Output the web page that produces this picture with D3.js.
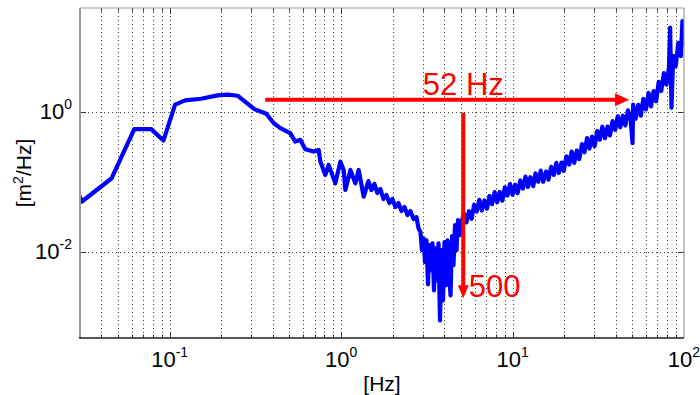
<!DOCTYPE html>
<html><head><meta charset="utf-8">
<script src="https://cdn.jsdelivr.net/npm/d3@7"></script>
<style>
body{margin:0;background:#fff;}
text{font-family:"Liberation Sans",Arial,Helvetica,sans-serif;fill:#000;}
</style>
</head><body><svg id="c" width="700" height="395"></svg>
<script>
// ---- data ----
const freq = [
 0.030,0.0308,0.0459,0.0622,0.078,0.092,0.1076,0.123,0.1525,0.19,0.218,0.249,0.312,0.366,
 0.404,0.442,0.505,0.540,0.578,0.618,0.692,0.740,0.757,0.809,0.846,0.926,0.990,1.035,1.059,
 1.133,1.211,1.266,1.355,
 1.443,1.502,1.564,1.628,1.696,1.766,1.838,1.913,1.992,2.075,2.160,2.249,2.342,2.438,2.538,2.643,2.752,2.827,
 2.904,2.963,3.024,3.085,3.148,3.212,3.278,3.344,3.413,3.482,3.553,3.625,3.699,3.775,3.851,3.930,4.010,4.091,
 4.175,4.260,4.347,4.436,4.525,4.618,4.712,4.808,4.906,5.040,
 5.2,5.38,5.57,5.77,5.97,6.18,6.4,6.62,6.85,7.09,7.34,7.6,7.86,8.14,8.42,8.72,9.02,9.34,9.67,10.0,
 10.35,10.7,11.1,11.5,11.9,12.3,12.7,13.2,13.6,14.1,14.6,15.1,15.7,16.2,16.8,17.4,18.0,18.6,19.3,19.9,
 20.6,21.4,22.1,22.9,23.7,24.5,25.4,26.3,27.2,28.1,29.1,30.1,31.2,32.3,33.4,34.6,35.8,37.0,38.3,39.7,
 41.1,42.5,44.0,45.5,47.1,48.8,50.1,50.5,52.2,54.1,56.0,57.9,60.0,62.1,64.2,66.5,68.8,71.2,73.7,76.3,
 79.0,81.7,83.0,84.5,86.5,89.5,92.6,95.9,97.9,100
];
const psd = [
 0.0611,0.0527,0.113,0.566,0.566,0.389,1.26,1.45,1.53,1.71,1.75,1.69,1.09,0.936,
 0.690,0.585,0.496,0.376,0.398,0.293,0.271,0.286,0.195,0.126,0.175,0.0958,0.195,0.148,0.0769,
 0.148,0.0958,0.148,0.0617,
 0.103,0.0769,0.0936,0.0697,0.0794,0.0572,0.0652,0.0501,0.0572,0.0440,0.0501,0.0385,0.0440,0.0338,0.0385,0.0296,0.0316,0.0220,
 0.0193,0.0107,0.0158,0.00720,0.0148,0.00349,0.0126,0.00553,0.0134,0.00286,0.0114,0.00398,0.0134,0.00107,0.0107,0.00206,0.0139,0.00338,
 0.0148,0.00553,0.00243,0.0169,0.00652,0.0243,0.0107,0.0286,0.0175,0.0268,
 0.0356,0.0265,0.0383,0.0298,0.0476,0.0378,0.0557,0.0392,0.0546,0.0417,0.0632,0.0483,0.0716,0.0516,0.0721,0.0541,0.0838,0.0643,0.0935,0.0658,
 0.0914,0.0695,0.105,0.0805,0.119,0.0851,0.117,0.0871,0.133,0.101,0.145,0.101,0.141,0.108,0.164,0.126,0.187,0.134,0.189,0.144,
 0.232,0.177,0.271,0.187,0.279,0.212,0.347,0.265,0.422,0.299,0.442,0.324,0.532,0.400,0.612,0.420,0.614,0.460,0.736,0.552,
 0.863,0.601,0.877,0.640,1.05,0.785,0.357,1.26,0.794,1.25,0.879,1.53,1.08,1.85,1.19,1.97,1.41,2.66,1.97,3.55,
 2.43,4.27,15.8,1.14,6.24,4.46,9.59,6.21,19.5,9.06
];
const xTicks = [0.1, 1, 10, 100];
const xTickExp = ["-1", "0", "1", "2"];
const yTicks = [0.01, 1];
const yTickExp = ["-2", "0"];
const xDomain = [0.03, 100];
const yDomain = [6e-4, 30];
const spanFreq = [0.361, 47.8];   // horizontal arrow (Hz)
const spanLevel = 1.48;           // horizontal arrow level
const spanText = "52 Hz";
const dropFreq = 5.16;            // vertical arrow (Hz)
const dropLevels = [0.968, 0.0022];
const dropText = "500";

// ---- layout ----
const L = 80, R = 684, T = 8, B = 338;
const svg = d3.select("#c");
const x = d3.scaleLog().domain(xDomain).range([L, R]);
const y = d3.scaleLog().domain(yDomain).range([B, T]);

// grid
const xGrid = x.ticks().filter(v => v > xDomain[0] && v < xDomain[1]);
svg.append("g").selectAll("line").data(xGrid).join("line")
  .attr("x1", d => Math.round(x(d)) + 0.5).attr("x2", d => Math.round(x(d)) + 0.5)
  .attr("y1", T).attr("y2", B)
  .attr("stroke", "#444").attr("stroke-width", 1).attr("stroke-dasharray", "1,3");
svg.append("g").selectAll("line").data(yTicks).join("line")
  .attr("y1", d => Math.round(y(d)) + 0.5).attr("y2", d => Math.round(y(d)) + 0.5)
  .attr("x1", L).attr("x2", R)
  .attr("stroke", "#444").attr("stroke-width", 1).attr("stroke-dasharray", "1,3");

// inner ticks
const tk = svg.append("g").attr("stroke", "#333").attr("stroke-width", 1);
xGrid.forEach(v => {
  const major = xTicks.includes(v);
  const len = major ? 6 : 3.5;
  const px = Math.round(x(v)) + 0.5;
  tk.append("line").attr("x1", px).attr("x2", px).attr("y1", B).attr("y2", B - len);
  tk.append("line").attr("x1", px).attr("x2", px).attr("y1", T).attr("y2", T + len);
});
yTicks.forEach(v => {
  const py = Math.round(y(v)) + 0.5;
  tk.append("line").attr("x1", L).attr("x2", L + 6).attr("y1", py).attr("y2", py);
  tk.append("line").attr("x1", R).attr("x2", R - 6).attr("y1", py).attr("y2", py);
});

// data line
svg.append("clipPath").attr("id", "clip").append("rect")
  .attr("x", L).attr("y", T).attr("width", R - L).attr("height", B - T);
const pts = freq.map((f, i) => [f, psd[i]]);
svg.append("path").datum(pts)
  .attr("clip-path", "url(#clip)")
  .attr("fill", "none").attr("stroke", "#0000ff").attr("stroke-width", 4.2)
  .attr("stroke-linejoin", "round").attr("stroke-linecap", "round")
  .attr("d", d3.line().x(d => x(d[0])).y(d => y(d[1])));

// box
svg.append("line").attr("x1", L).attr("x2", R).attr("y1", T).attr("y2", T).attr("stroke", "#999").attr("stroke-width", 1.2);
svg.append("line").attr("x1", R).attr("x2", R).attr("y1", T).attr("y2", B).attr("stroke", "#999").attr("stroke-width", 1.2);
svg.append("line").attr("x1", L).attr("x2", L).attr("y1", T).attr("y2", B).attr("stroke", "#999").attr("stroke-width", 2);
svg.append("line").attr("x1", L - 1).attr("x2", R).attr("y1", B).attr("y2", B).attr("stroke", "#222").attr("stroke-width", 1.5);

// tick labels
xTicks.forEach((v, i) => {
  const t = svg.append("text").attr("x", x(v)).attr("y", 367).attr("text-anchor", "middle").attr("font-size", 22);
  t.append("tspan").text("10");
  t.append("tspan").attr("dy", -10).attr("font-size", 14).text(xTickExp[i]);
});
yTicks.forEach((v, i) => {
  const t = svg.append("text").attr("x", 72).attr("y", y(v) + 7).attr("text-anchor", "end").attr("font-size", 22);
  t.append("tspan").text("10");
  t.append("tspan").attr("dy", -10).attr("font-size", 14).text(yTickExp[i]);
});

// axis labels
svg.append("text").attr("x", (L + R) / 2).attr("y", 391).attr("text-anchor", "middle").attr("font-size", 21).text("[Hz]");
const yl = svg.append("text").attr("transform", `translate(31,${(T + B) / 2}) rotate(-90)`)
  .attr("text-anchor", "middle").attr("font-size", 21);
yl.append("tspan").text("[m");
yl.append("tspan").attr("dy", -8).attr("font-size", 14).text("2");
yl.append("tspan").attr("dy", 8).text("/Hz]");

// annotations
const red = "#ff0000";
const hy = y(spanLevel), hx0 = x(spanFreq[0]), hx1 = x(spanFreq[1]);
svg.append("line").attr("x1", hx0).attr("x2", hx1 - 10).attr("y1", hy).attr("y2", hy)
  .attr("stroke", red).attr("stroke-width", 4);
svg.append("path").attr("d", `M${hx1},${hy} L${hx1 - 14},${hy - 6.5} L${hx1 - 14},${hy + 6.5} Z`).attr("fill", red);
svg.append("text").attr("x", x(dropFreq)).attr("y", hy - 5).attr("text-anchor", "middle")
  .attr("font-size", 31).style("fill", red).text(spanText);

const vx = x(dropFreq), vy0 = y(dropLevels[0]), vy1 = y(dropLevels[1]);
svg.append("line").attr("x1", vx).attr("x2", vx).attr("y1", vy0).attr("y2", vy1 - 10)
  .attr("stroke", red).attr("stroke-width", 4);
svg.append("path").attr("d", `M${vx},${vy1} L${vx - 5.5},${vy1 - 13} L${vx + 5.5},${vy1 - 13} Z`).attr("fill", red);
svg.append("text").attr("x", vx + 5.5).attr("y", vy1 - 1).attr("text-anchor", "start")
  .attr("font-size", 31).style("fill", red).text(dropText);
</script>
</body></html>
